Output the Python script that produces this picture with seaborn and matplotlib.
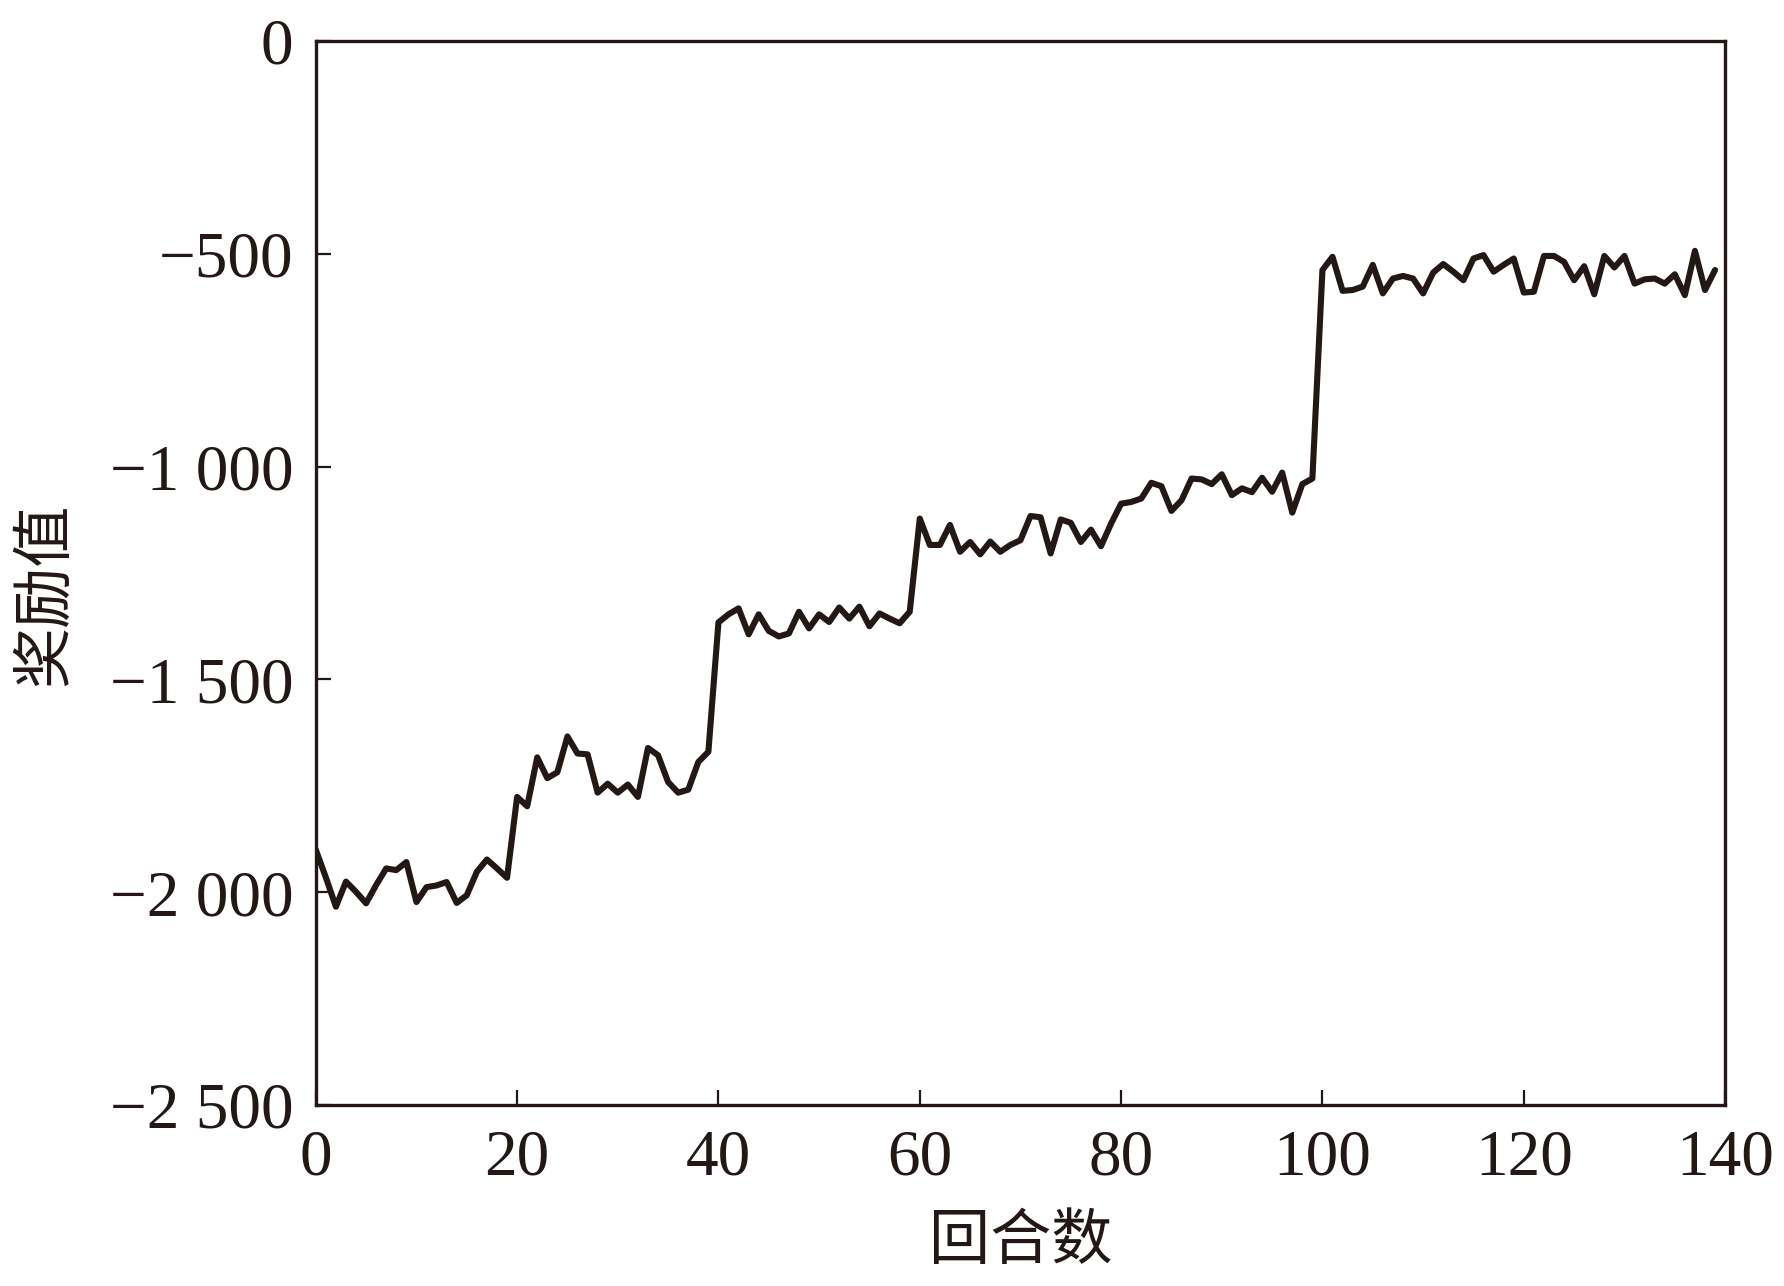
import numpy as np
import pandas as pd
import matplotlib
matplotlib.use("Agg")
import matplotlib.pyplot as plt
import seaborn as sns

# ---- data ----
episodes = list(range(140))
rewards = [
    -1900, -1965, -2034, -1975, -1999, -2026, -1983, -1944, -1948, -1929,
    -2023, -1988, -1984, -1976, -2025, -2007, -1952, -1923, -1944, -1966,
    -1776, -1798, -1683, -1732, -1718, -1634, -1674, -1676, -1766, -1745,
    -1766, -1747, -1776, -1661, -1678, -1741, -1766, -1759, -1694, -1670,
    -1366, -1347, -1333, -1394, -1347, -1386, -1399, -1392, -1341, -1380,
    -1347, -1365, -1331, -1357, -1329, -1375, -1345, -1357, -1368, -1341,
    -1122, -1184, -1184, -1137, -1200, -1177, -1206, -1176, -1200, -1184,
    -1173, -1116, -1119, -1204, -1124, -1132, -1177, -1148, -1187, -1134,
    -1087, -1083, -1075, -1038, -1046, -1104, -1079, -1028, -1030, -1041,
    -1018, -1067, -1051, -1060, -1026, -1059, -1014, -1108, -1041, -1028,
    -538, -507, -587, -585, -577, -526, -593, -558, -552, -558,
    -593, -544, -524, -542, -562, -511, -503, -542, -526, -511,
    -591, -589, -505, -505, -519, -562, -529, -595, -505, -532,
    -505, -570, -560, -558, -570, -548, -597, -493, -585, -538,
]

x_ticks = [0, 20, 40, 60, 80, 100, 120, 140]
y_ticks = [0, -500, -1000, -1500, -2000, -2500]
y_tick_labels = ["0", "\u2212500", "\u22121 000", "\u22121 500", "\u22122 000", "\u22122 500"]
x_label = "回合数"
y_label = "奖励值"

df = pd.DataFrame({"episode": episodes, "reward": rewards})

sns.set_style("ticks")
plt.rcParams["font.family"] = ["Liberation Serif", "Noto Sans CJK SC"]
plt.rcParams["axes.unicode_minus"] = True

ink = "#231815"

fig = plt.figure(figsize=(17.84, 12.86), dpi=100)
ax = fig.add_axes([0.177, 0.1407, 0.790, 0.8274])

sns.lineplot(data=df, x="episode", y="reward", ax=ax, color=ink, linewidth=4.4)

ax.set_xlim(0, 140)
ax.set_ylim(-2500, 0)
ax.set_xticks(x_ticks)
ax.set_xticklabels([str(t) for t in x_ticks])
ax.set_yticks(y_ticks)
ax.set_yticklabels(y_tick_labels)

for s in ax.spines.values():
    s.set_visible(True)
    s.set_color(ink)
    s.set_linewidth(2.4)

ax.tick_params(axis="both", direction="in", length=11, width=1.6, colors=ink,
               labelsize=47, labelcolor=ink)
ax.tick_params(axis="x", pad=17)
ax.tick_params(axis="y", pad=16)

ax.set_xlabel(x_label, fontsize=44, color=ink, labelpad=16,
              family=["Noto Sans CJK SC", "DejaVu Sans"])
ax.set_ylabel(y_label, fontsize=44, color=ink, labelpad=30,
              family=["Noto Sans CJK SC", "DejaVu Sans"])
ax.yaxis.set_label_coords(-0.17, 0.48)

fig.savefig("out.png", dpi=100)
